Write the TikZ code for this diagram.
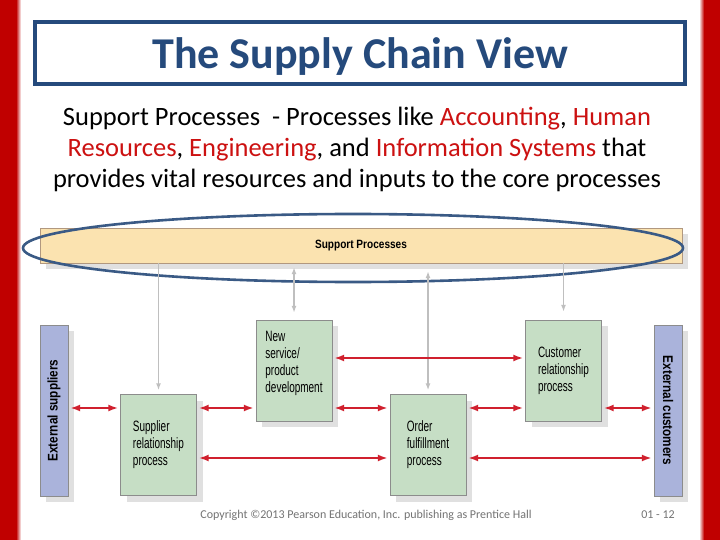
\documentclass[tikz,border=0pt]{standalone}
\usepackage{fontspec}
\usepackage{tikz}
\usetikzlibrary{arrows.meta, positioning, shapes.geometric, shadows}
\setmainfont{Carlito}
\newfontfamily\figfont{Liberation Sans}[FakeStretch=0.665]
\newfontfamily\figbold{Liberation Sans Bold}[FakeStretch=0.84]
\definecolor{sidered}{HTML}{C00000}
\definecolor{titleblue}{HTML}{254A7C}
\definecolor{ringblue}{HTML}{3A5A85}
\definecolor{keyred}{HTML}{CC1111}
\definecolor{flowred}{HTML}{D0202E}
\definecolor{procgreen}{HTML}{C6DEC5}
\definecolor{suppbeige}{HTML}{FBE3B0}
\definecolor{extblue}{HTML}{AAB3DB}
\tikzset{
  shadowed/.style={drop shadow={shadow xshift=6pt, shadow yshift=-6pt, fill=black!12, opacity=1}},
  greenbox/.style={rectangle, draw=black!45, fill=procgreen, shadowed, align=left,
    minimum width=76pt, minimum height=101pt, inner sep=0pt, font=\figfont\fontsize{15}{17}\selectfont},
  extbox/.style={rectangle, draw=black!45, fill=extblue, shadowed, minimum width=171pt, minimum height=28pt,
    inner sep=0pt, font=\figbold\fontsize{14}{16}\selectfont},
  suppbar/.style={rectangle, draw=black!35!brown!60, fill=suppbeige, shadowed, minimum width=642pt,
    minimum height=35pt, inner sep=0pt, font=\figbold\fontsize{12}{14}\selectfont},
  redline/.style={{Latex[length=10pt,width=7pt]}-{Latex[length=10pt,width=7pt]}, flowred, line width=2.5pt,
    shorten <=2pt, shorten >=2pt},
  grayline/.style={-{Latex[length=7pt,width=5pt]}, black!25, line width=1.6pt},
  graytwo/.style={{Latex[length=7pt,width=5pt]}-{Latex[length=7pt,width=5pt]}, black!25, line width=1.6pt}
}

\begin{document}
\begin{tikzpicture}[x=1pt, y=-1pt]
    \useasboundingbox (0,0) rectangle (720,540);
    \fill[white] (0,0) rectangle (720,540);
    \fill[sidered] (0,0) rectangle (16,540);
    \shade[left color=sidered, right color=white] (16,0) rectangle (21,540);
    \fill[sidered] (704,0) rectangle (720,540);
    \shade[left color=white, right color=sidered] (699,0) rectangle (704,540);

    \node[draw=titleblue, line width=3.5pt, minimum width=650pt, minimum height=62pt, text=titleblue,
      text depth=0pt, font=\bfseries\fontsize{44}{50}\selectfont] (title) at (360,53) {The Supply Chain View};
    \node[align=center, font=\fontsize{26.5}{31}\selectfont] (intro) at (357,149)
      {Support Processes\ \ - Processes like \textcolor{keyred}{Accounting}, \textcolor{keyred}{Human}\\
       \textcolor{keyred}{Resources}, \textcolor{keyred}{Engineering}, and \textcolor{keyred}{Information Systems} that\\
       provides vital resources and inputs to the core processes};

    \node[suppbar] (supp) at (361,245.5) {Support Processes};
    \node[ellipse, draw=ringblue, line width=2.6pt, minimum width=660pt, minimum height=68pt, inner sep=0pt]
      (ring) at (353,248) {};

    \node[extbox, rotate=90] (extS) at (54,410.5) {External suppliers};
    \node[extbox, rotate=-90] (extC) at (668,410.5) {External customers};
    \node[greenbox] (srp) at (158.5,445) {Supplier\\relationship\\process};
    \node[greenbox] (nsd) at (294,370.5) {New\\service/\\product\\development\\~};
    \node[greenbox] (ofp) at (428,445) {Order\\fulfillment\\process};
    \node[greenbox] (crp) at (563.5,370.5) {Customer\\relationship\\process};

    \coordinate (rowA) at (0,358);
    \coordinate (rowB) at (0,408);
    \coordinate (rowC) at (0,458);

    \draw[grayline, shorten >=4pt] (srp.north |- supp.south) -- (srp.north);
    \draw[graytwo, shorten <=4pt, shorten >=7pt] (nsd.north |- supp.south) -- (nsd.north);
    \draw[graytwo, shorten <=8pt, shorten >=4pt] (ofp.north |- supp.south) -- (ofp.north);
    \draw[grayline, shorten >=8pt] (crp.north |- supp.south) -- (crp.north);

    \draw[redline] (nsd.east |- rowA) -- (crp.west |- rowA);
    \draw[redline] (extS.south |- rowB) -- (srp.west |- rowB);
    \draw[redline] (srp.east |- rowB) -- (nsd.west |- rowB);
    \draw[redline] (nsd.east |- rowB) -- (ofp.west |- rowB);
    \draw[redline] (ofp.east |- rowB) -- (crp.west |- rowB);
    \draw[redline] (crp.east |- rowB) -- (extC.south |- rowB);
    \draw[redline] (srp.east |- rowC) -- (ofp.west |- rowC);
    \draw[redline] (ofp.east |- rowC) -- (extC.south |- rowC);

    \node[text=black!55, font=\fontsize{12}{14}\selectfont] (copy) at (366,515)
      {Copyright \textcopyright2013 Pearson Education, Inc. publishing as Prentice Hall};
    \node[text=black!55, font=\fontsize{12}{14}\selectfont] (page) at (658,515) {01 - 12};
  \end{tikzpicture}
\end{document}
